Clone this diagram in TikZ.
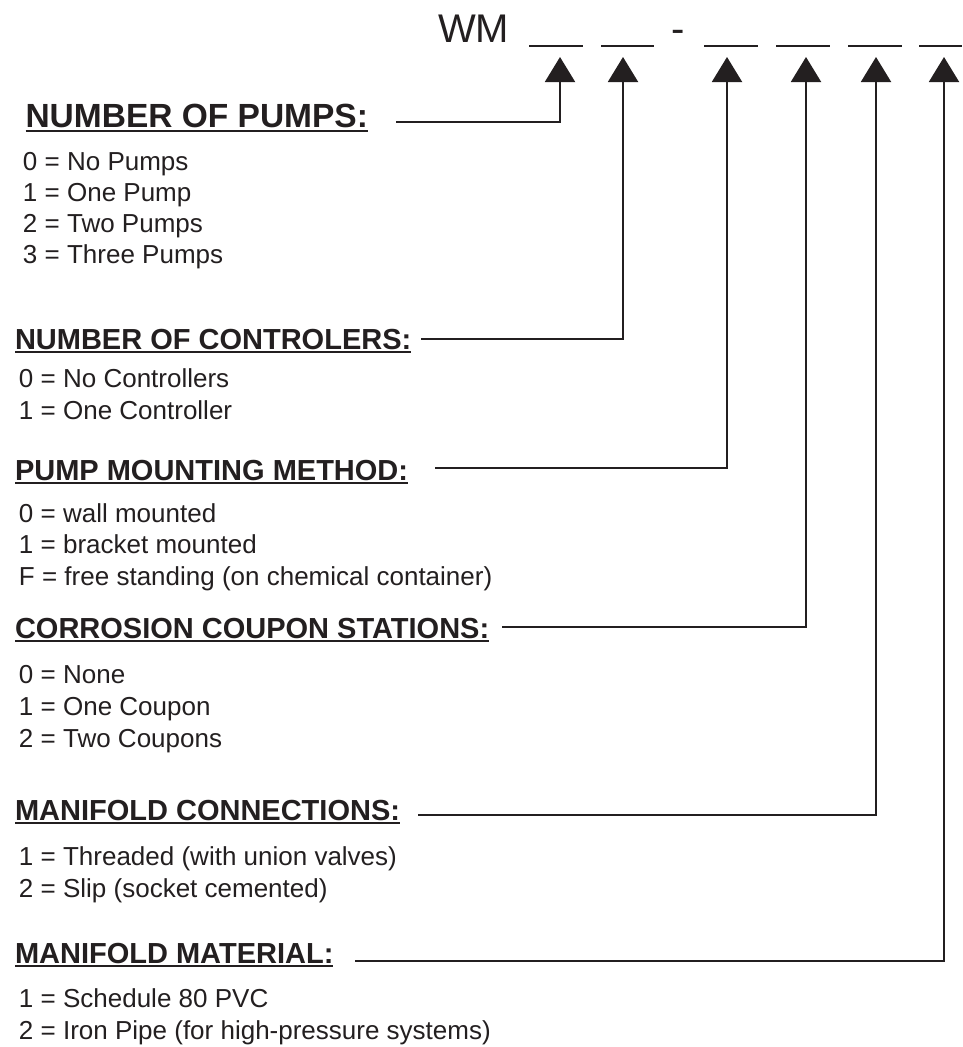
\documentclass[tikz,border=0pt]{standalone}
\usepackage{fontspec}
\setmainfont{Liberation Sans}
\usetikzlibrary{arrows.meta}
\definecolor{ink}{HTML}{231F20}
\begin{document}
\begin{tikzpicture}[x=1pt,y=-1pt,
  txt/.style={inner sep=0pt, outer sep=0pt, text=ink, font=\fontsize{26}{31}\selectfont, anchor=base west},
  hd/.style={inner sep=0pt, outer sep=0pt, text=ink, font=\fontsize{29}{34}\selectfont\bfseries, anchor=base west},
  hdbig/.style={inner sep=0pt, outer sep=0pt, text=ink, font=\fontsize{33.5}{38}\selectfont\bfseries, anchor=base east},
  code/.style={inner sep=0pt, outer sep=0pt, text=ink, font=\fontsize{40}{46}\selectfont, anchor=base west},
  conn/.style={line width=2pt, draw=ink, -{Triangle[length=25pt,width=30pt]}},
  blank/.style={line width=1.8pt, draw=ink},
  uline/.style={line width=2pt, draw=ink}]
\useasboundingbox[fill=white] (0,0) rectangle (962,1047);

% code line
\node[code] (wm) at (438,42) {WM};
\node[code] (dash) at (671,42) {-};
\draw[blank] (529,46) -- (583,46);
\draw[blank] (601,46) -- (654,46);
\draw[blank] (704,46) -- (758,46);
\draw[blank] (776,46) -- (830,46);
\draw[blank] (848,46) -- (902,46);
\draw[blank] (919,46) -- (962,46);

% arrow tips
\coordinate (a1) at (560,57);
\coordinate (a2) at (623,57);
\coordinate (a3) at (727,57);
\coordinate (a4) at (806,57);
\coordinate (a5) at (876,57);
\coordinate (a6) at (944,57);

% headings
\node[hdbig] (h1) at (368,127) {NUMBER OF PUMPS:};
\node[hd] (h2) at (15,349) {NUMBER OF CONTROLERS:};
\node[hd] (h3) at (15,480) {PUMP MOUNTING METHOD:};
\node[hd] (h4) at (15,638) {CORROSION COUPON STATIONS:};
\node[hd] (h5) at (15,820) {MANIFOLD CONNECTIONS:};
\node[hd] (h6) at (15,963) {MANIFOLD MATERIAL:};
\foreach \h/\d in {h1/3.5,h2/3,h3/3,h4/3,h5/3,h6/3}{
  \draw[uline] ([yshift=-\d pt]\h.base west) -- ([yshift=-\d pt]\h.base east);
}

% connector start points
\coordinate (s1) at (396,122);
\coordinate (s2) at (421,339);
\coordinate (s3) at (435,468);
\coordinate (s4) at (502,627);
\coordinate (s5) at (418,815);
\coordinate (s6) at (355,961);
\draw[conn] (s1) -| (a1);
\draw[conn] (s2) -| (a2);
\draw[conn] (s3) -| (a3);
\draw[conn] (s4) -| (a4);
\draw[conn] (s5) -| (a5);
\draw[conn] (s6) -| (a6);

% option lists
\node[txt] (p0) at (23,170) {0 = No Pumps};
\node[txt] (p1) at (23,201) {1 = One Pump};
\node[txt] (p2) at (23,232) {2 = Two Pumps};
\node[txt] (p3) at (23,263) {3 = Three Pumps};

\node[txt] (c0) at (19,387) {0 = No Controllers};
\node[txt] (c1) at (19,419) {1 = One Controller};

\node[txt] (m0) at (19,522) {0 = wall mounted};
\node[txt] (m1) at (19,553.5) {1 = bracket mounted};
\node[txt] (m2) at (19,585) {F = free standing (on chemical container)};

\node[txt] (k0) at (19,683) {0 = None};
\node[txt] (k1) at (19,715) {1 = One Coupon};
\node[txt] (k2) at (19,747) {2 = Two Coupons};

\node[txt] (n1) at (19,865) {1 = Threaded (with union valves)};
\node[txt] (n2) at (19,897) {2 = Slip (socket cemented)};

\node[txt] (t1) at (19,1007) {1 = Schedule 80 PVC};
\node[txt] (t2) at (19,1039) {2 = Iron Pipe (for high-pressure systems)};
\end{tikzpicture}
\end{document}
